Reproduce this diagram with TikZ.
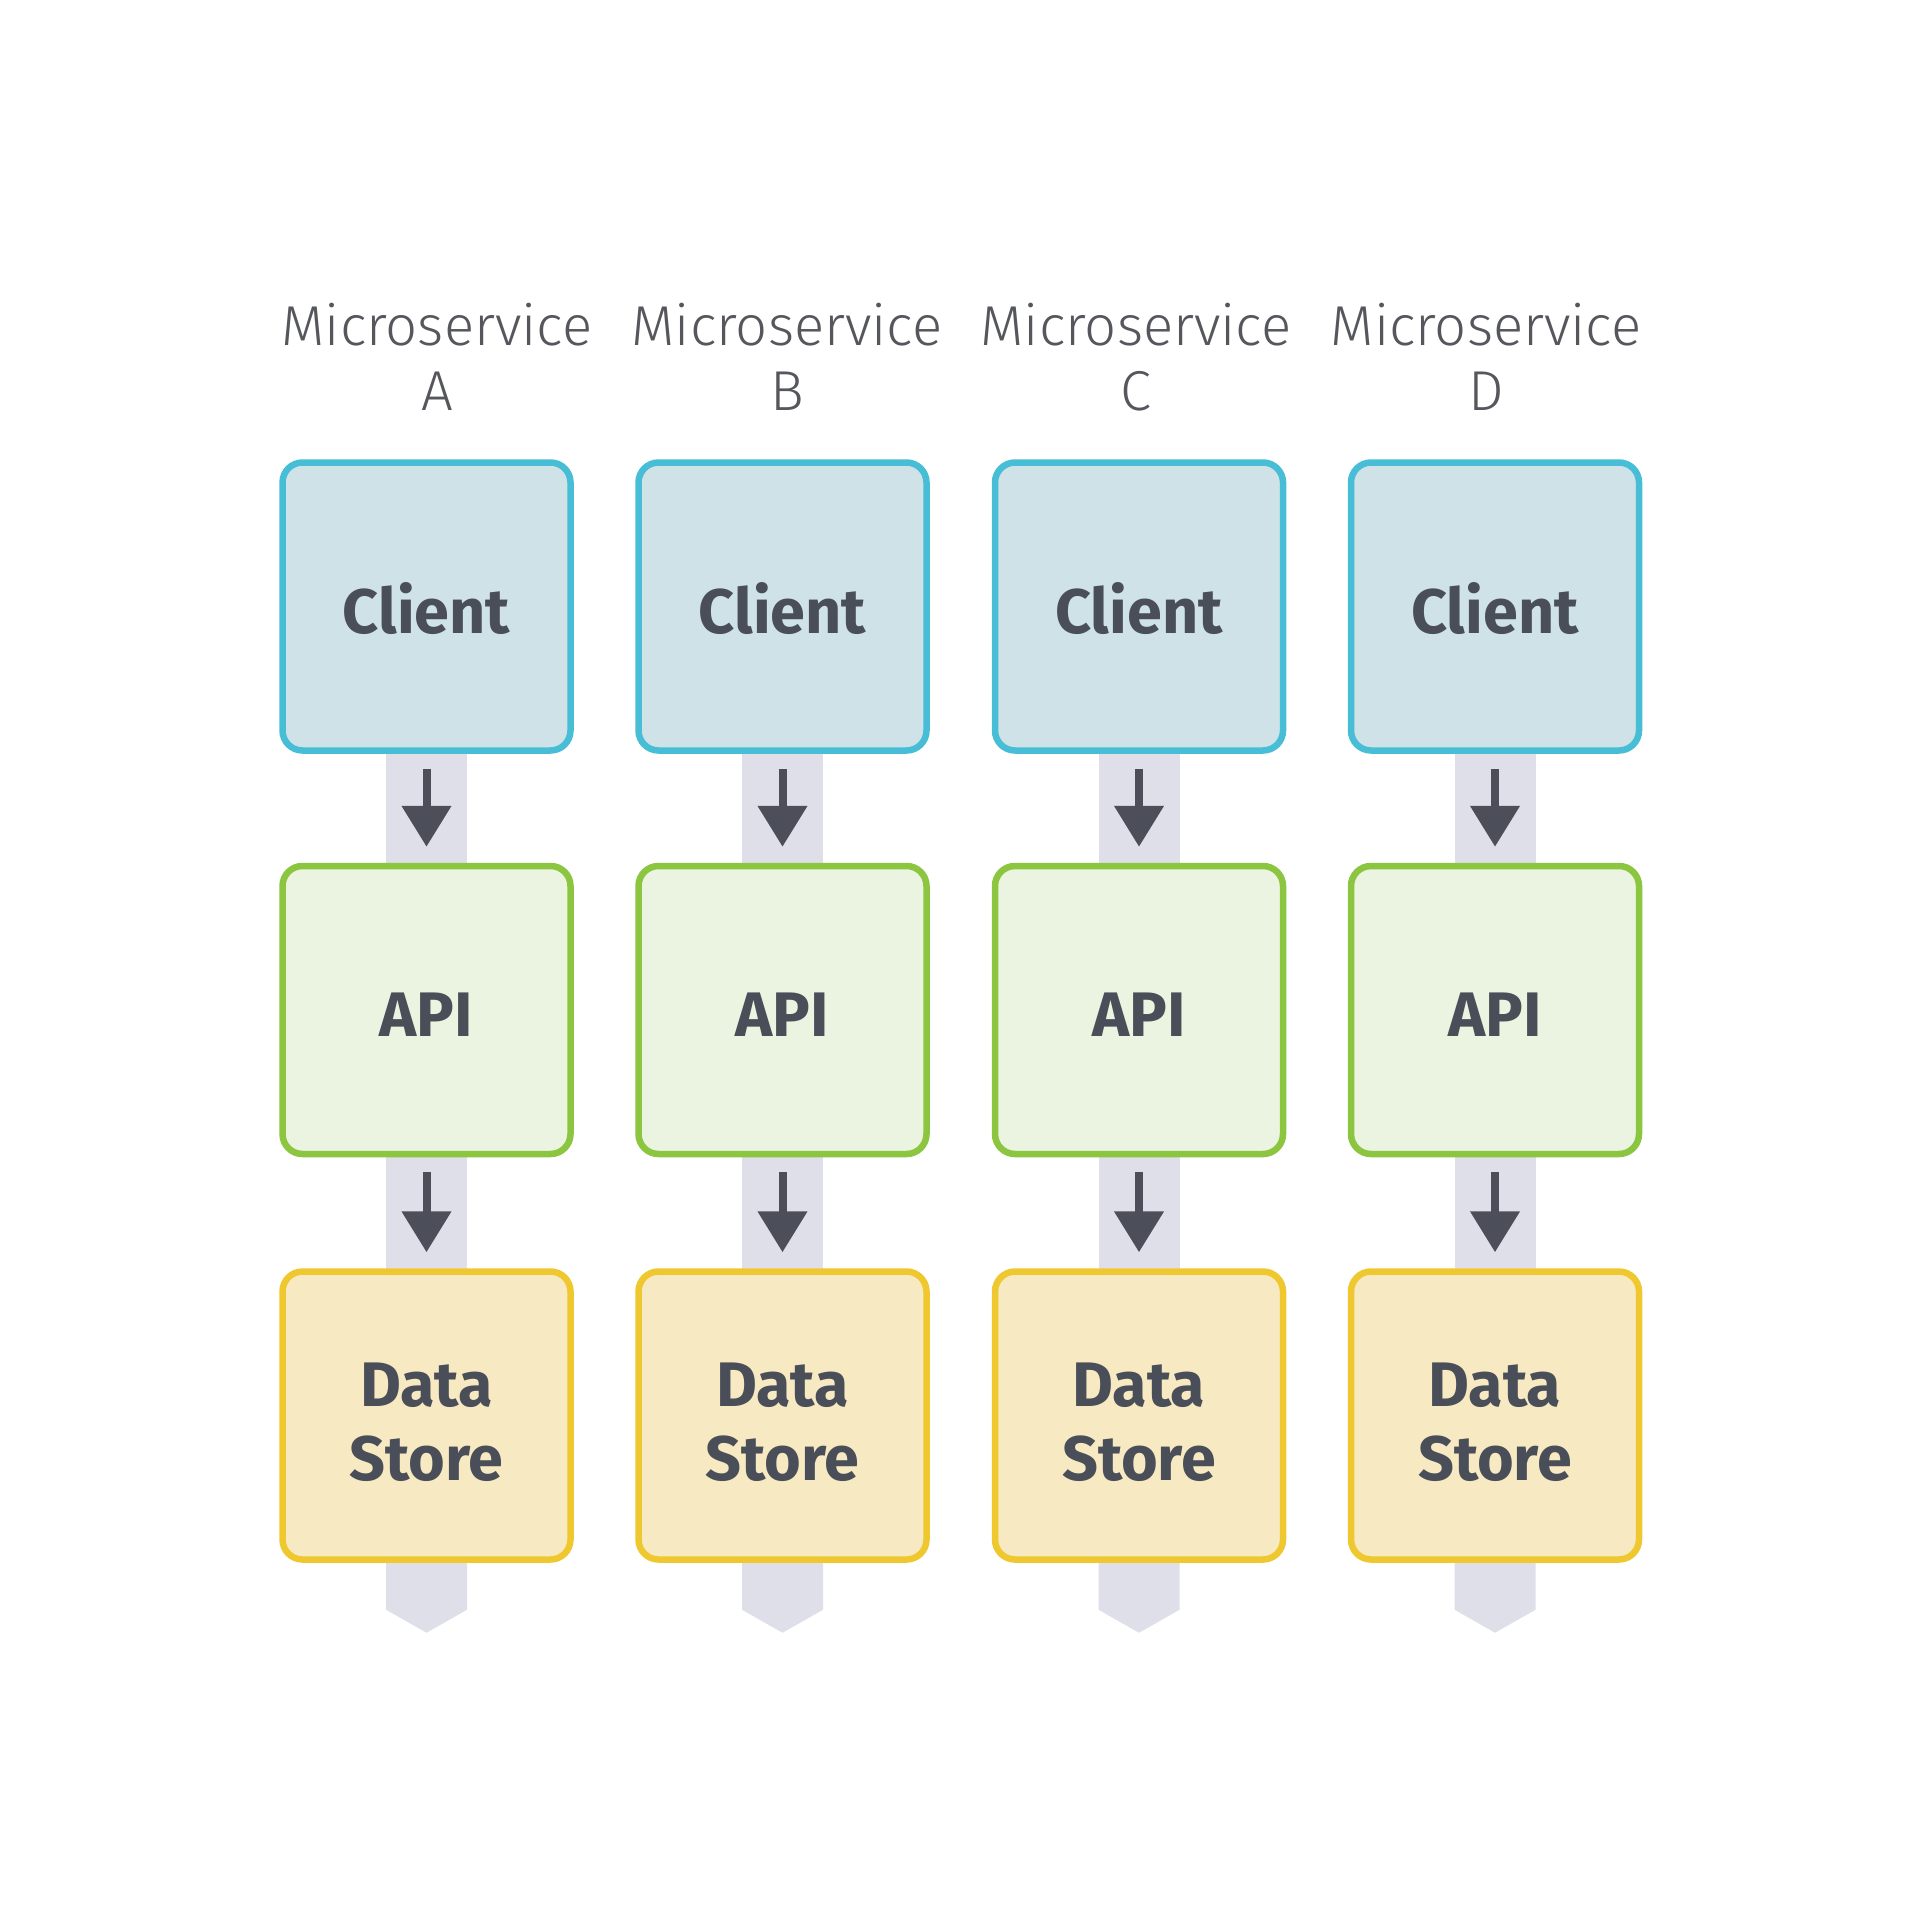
\documentclass[tikz,border=0pt]{standalone}
\usepackage{fontspec}
\setmainfont{Fira Sans}
\newfontfamily\titlefont{Fira Sans Light}
\usetikzlibrary{arrows.meta,backgrounds}
\definecolor{clientfill}{HTML}{CEE2E7}
\definecolor{clientline}{HTML}{47BED6}
\definecolor{apifill}{HTML}{EBF4E1}
\definecolor{apiline}{HTML}{8CC53F}
\definecolor{datafill}{HTML}{F7E9C1}
\definecolor{dataline}{HTML}{EFC830}
\definecolor{bandcol}{HTML}{DFDFEA}
\definecolor{arrowcol}{HTML}{4C4F5A}
\definecolor{labelcol}{HTML}{4A4E58}
\definecolor{titlecol}{HTML}{55575D}
\newcommand{\lowtext}[2]{\raisebox{-#1}[\height][\depth]{#2}}
\tikzset{
  box/.style={rectangle, rounded corners=0.2cm, line width=0.065cm,
    minimum width=2.88cm, minimum height=2.88cm, inner sep=0pt,
    font=\fontsize{17.9}{21}\selectfont\bfseries, text=labelcol},
  clientbox/.style={box, draw=clientline, fill=clientfill},
  apibox/.style={box, draw=apiline, fill=apifill},
  databox/.style={box, draw=dataline, fill=datafill},
  titlelabel/.style={font=\titlefont\fontsize{16}{18.6}\selectfont, text=titlecol, align=center, inner sep=0pt},
  flowarrow/.style={draw=arrowcol, line width=0.08cm, -{Triangle[length=0.41cm,width=0.48cm]}},
  band/.style={fill=bandcol}
}
\begin{document}
\begin{tikzpicture}
\useasboundingbox (0,0) rectangle (19.2,-19.2);
\foreach \i/\x/\tx/\L in {1/4.265/4.37/A,2/7.825/7.87/B,3/11.39/11.36/C,4/14.95/14.86/D}{
  \node[titlelabel] (t\i) at (\tx,-3.57) {Microservice\\\L};
  \node[clientbox] (c\i) at (\x,-6.065) {\lowtext{0.02cm}{Client}};
  \node[apibox] (a\i) at (\x,-10.10) {\lowtext{0.05cm}{API}};
  \node[databox] (d\i) at (\x,-14.155) {\lowtext{0.07cm}{\parbox{2.6cm}{\centering Data\\Store}}};
  \begin{scope}[on background layer]
    \fill[band] ([xshift=-0.405cm,yshift=0.1cm]c\i.south) rectangle ([xshift=0.405cm,yshift=-0.1cm]a\i.north);
    \fill[band] ([xshift=-0.405cm,yshift=0.1cm]a\i.south) rectangle ([xshift=0.405cm,yshift=-0.1cm]d\i.north);
    \fill[band] ([xshift=-0.405cm,yshift=0.1cm]d\i.south) -- ([xshift=-0.405cm,yshift=-0.47cm]d\i.south)
      -- ([yshift=-0.70cm]d\i.south) -- ([xshift=0.405cm,yshift=-0.47cm]d\i.south)
      -- ([xshift=0.405cm,yshift=0.1cm]d\i.south) -- cycle;
  \end{scope}
  \draw[flowarrow] ([yshift=-0.15cm]c\i.south) -- ([yshift=0.16cm]a\i.north);
  \draw[flowarrow] ([yshift=-0.15cm]a\i.south) -- ([yshift=0.16cm]d\i.north);
}
\end{tikzpicture}
\end{document}
